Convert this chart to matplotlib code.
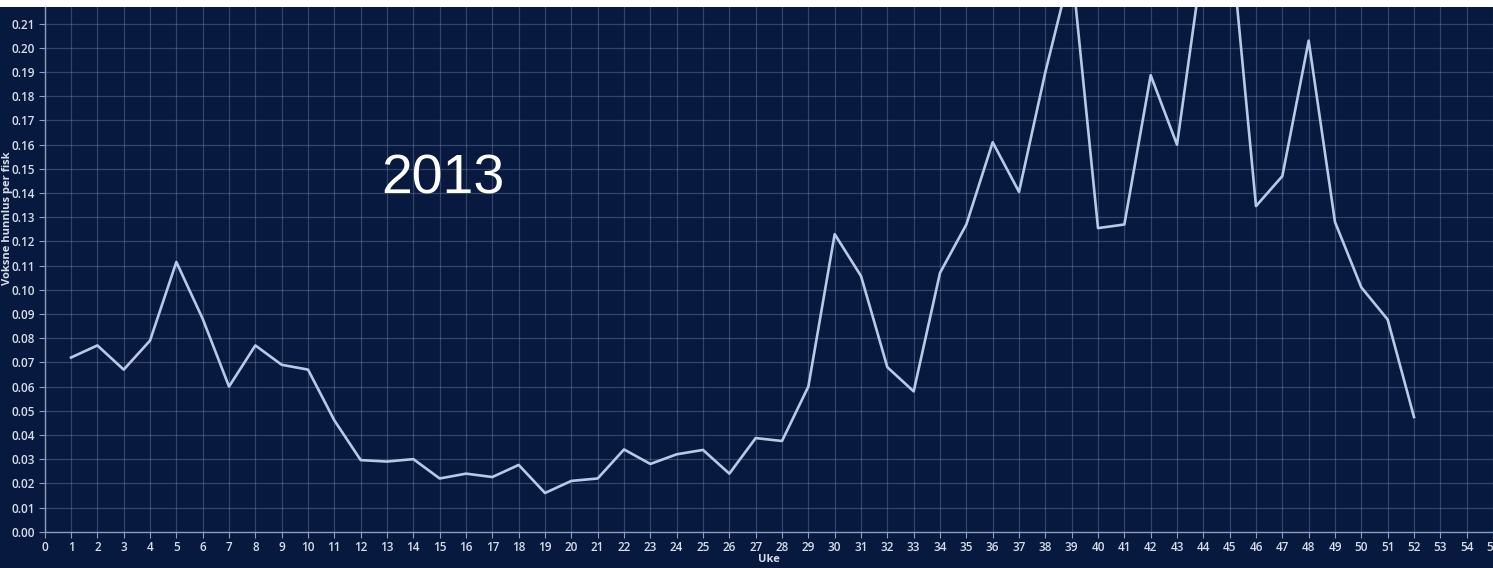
import matplotlib
matplotlib.use("Agg")
import matplotlib.pyplot as plt
import numpy as np

weeks = list(range(1, 53))
lice = [0.072, 0.077, 0.067, 0.079, 0.1115, 0.088, 0.060, 0.077, 0.069, 0.067,
        0.046, 0.0296, 0.029, 0.030, 0.022, 0.024, 0.0226, 0.0276, 0.016, 0.021,
        0.022, 0.034, 0.028, 0.032, 0.0338, 0.024, 0.0387, 0.0375, 0.060, 0.123,
        0.1057, 0.068, 0.058, 0.107, 0.127, 0.161, 0.1405, 0.190, 0.234, 0.1255,
        0.127, 0.1887, 0.160, 0.238, 0.250, 0.1346, 0.147, 0.203, 0.128, 0.101,
        0.0877, 0.0474]
x_ticks = list(range(0, 56))
y_ticks = [round(0.01 * i, 2) for i in range(0, 22)]
year_label = "2013"
x_label = "Uke"
y_label = "Voksne hunnlus per fisk"

bg = "#07193f"
txt = "#d8dde8"

fig = plt.figure(figsize=(14.93, 5.68), dpi=100, facecolor=bg)
# white strip at top
fig.patches.append(plt.Rectangle((0, 1 - 7 / 568), 1, 7 / 568, transform=fig.transFigure,
                                 facecolor="white", edgecolor="none", zorder=10))
ax = fig.add_axes([44.7 / 1493, 1 - 531.7 / 568, 1 - 44.7 / 1493, (531.7 - 7) / 568])
ax.set_facecolor(bg)

ax.plot(weeks, lice, color="#b4cbe8", linewidth=1.9, zorder=3)

ax.set_xlim(0, 55)
ax.set_ylim(0, (531.7 - 7) / 2419)
ax.set_xticks(x_ticks)
ax.set_yticks(y_ticks)
ax.set_yticklabels([f"{v:.2f}" for v in y_ticks])
ax.grid(True, color="#8a9cc0", alpha=0.33, linewidth=0.9)
for side in ["top", "right"]:
    ax.spines[side].set_visible(False)
for side in ["left", "bottom"]:
    ax.spines[side].set_color("#8a9cc0")
    ax.spines[side].set_linewidth(1.0)
ax.tick_params(colors="#8a9cc0", labelcolor=txt, length=4, width=0.8, pad=3)
for lab in ax.get_xticklabels() + ax.get_yticklabels():
    lab.set_fontfamily("Open Sans")
    lab.set_fontweight("semibold")
    lab.set_fontsize(8.5)

ax.set_xlabel(x_label, color=txt, fontfamily="Open Sans", fontweight="bold", fontsize=8, labelpad=0)
fig.text(8 / 1493, 1 - 218 / 568, y_label, rotation=90, color=txt, fontfamily="Open Sans",
         fontweight="bold", fontsize=8, ha="center", va="center")

fig.text(443 / 1493, 1 - 180 / 568, year_label, color="white", fontfamily="Liberation Sans",
         fontsize=40, ha="center", va="center")

fig.savefig("out.png", dpi=100, facecolor=bg)
